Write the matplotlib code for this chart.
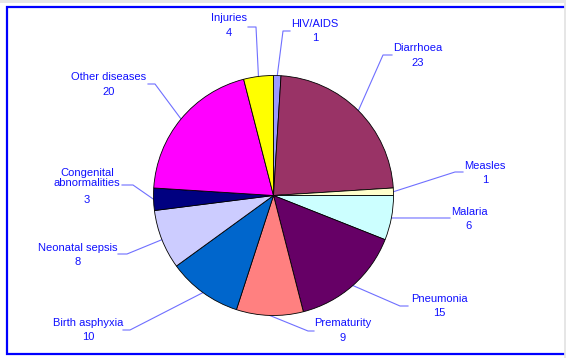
import numpy as np
import matplotlib
matplotlib.use("Agg")
import matplotlib.pyplot as plt
from matplotlib.patches import Rectangle

# data (clockwise from 12 o'clock)
causes = ["HIV/AIDS", "Diarrhoea", "Measles", "Malaria", "Pneumonia", "Prematurity",
          "Birth asphyxia", "Neonatal sepsis", "Congenital\nabnormalities",
          "Other diseases", "Injuries"]
values = [1, 23, 1, 6, 15, 9, 10, 8, 3, 20, 4]
colors = ["#9999FF", "#993366", "#FFFFCC", "#CCFFFF", "#660066", "#FF8080",
          "#0066CC", "#CCCCFF", "#000080", "#FF00FF", "#FFFF00"]

# layout in image pixels
W, H = 566, 358
cx, cy, r = 273.5, 195.5, 120
name_xy = [(315, 24), (418, 48), (485, 166), (469, 212), (439, 299), (343, 323),
           (88, 323), (78, 248), (87, 178), (109, 77), (229, 18)]
value_y = [38, 63, 180, 226, 313, 338, 337, 262, 200, 92, 33]
elbow = [(283, 31), (383, 55), (455, 172), (440, 218), (400, 306), (308, 331),
         (130, 330), (127, 254), (133, 185), (155, 84), (256, 27)]
tail_x = [290, 392, 463, 450, 408, 314, 123, 118, 122, 148, 248]

text_col = "#1010FF"
line_col = "#6F6FFF"

def main():
    plt.rcParams['font.family'] = ['Liberation Sans', 'DejaVu Sans']
    fig = plt.figure(figsize=(W / 100, H / 100), dpi=100)
    fig.patch.set_facecolor("white")

    over = fig.add_axes([0, 0, 1, 1])
    over.set_xlim(0, W)
    over.set_ylim(H, 0)
    over.axis("off")
    over.add_patch(Rectangle((0, 0), W, 2.5, color="#E6E6E6", lw=0))
    over.add_patch(Rectangle((563.5, 0), 3, H, color="#E6E6E6", lw=0))
    over.plot([563, 7, 7, 563], [6.5, 6.5, 354, 354], color="#0000FF", lw=1.6,
              solid_joinstyle="miter")

    pax = fig.add_axes([(cx - r) / W, 1 - (cy + r) / H, 2 * r / W, 2 * r / H])
    wedges, _ = pax.pie(values, colors=colors, startangle=90, counterclock=False,
                        wedgeprops=dict(edgecolor="black", linewidth=0.6))
    pax.set_xlim(-1, 1)
    pax.set_ylim(-1, 1)
    pax.axis("off")

    for i, w in enumerate(wedges):
        th = np.deg2rad((w.theta1 + w.theta2) / 2)
        sx = cx + r * np.cos(th)
        sy = cy - r * np.sin(th)
        ex, ey = elbow[i]
        over.plot([sx, ex, tail_x[i]], [sy, ey, ey], color=line_col, lw=0.8)
        nx, ny = name_xy[i]
        over.text(nx, ny, causes[i], ha="center", va="center", fontsize=8,
                  color=text_col, linespacing=1.1)
        over.text(nx, value_y[i], str(values[i]), ha="center", va="center",
                  fontsize=8, color=text_col)

    fig.savefig("out.png", dpi=100, facecolor="white")

if __name__ == "__main__":
    main()
